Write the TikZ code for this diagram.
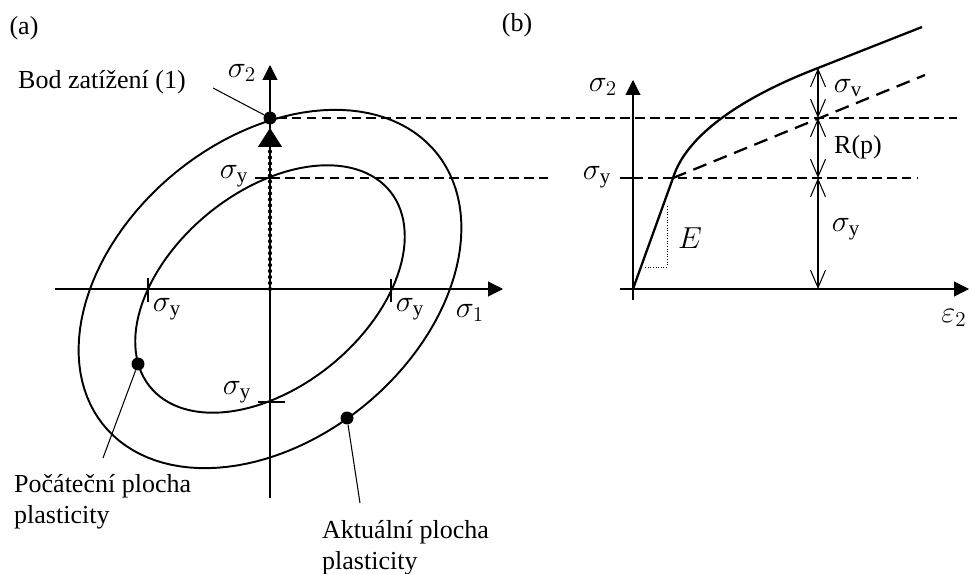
\documentclass[tikz,border=0pt]{standalone}
\usepackage{fontspec}
\setmainfont{Liberation Serif}
\usetikzlibrary{arrows.meta}

\begin{document}
\begin{tikzpicture}[
    x=0.02cm, y=-0.02cm,
    font=\fontsize{14.8}{17.5}\selectfont,
    axis/.style={line width=0.6pt, -{Triangle[length=3mm, width=3mm]}},
    curve/.style={line width=1.1pt},
    guide/.style={line width=0.6pt, dash pattern=on 5.5pt off 3pt},
    leader/.style={line width=0.6pt},
    dot/.style={circle, fill=black, inner sep=0pt, minimum size=0.26cm},
    mlbl/.style={font=\fontsize{17}{20}\selectfont},
    dimarrow/.style={line width=0.6pt, {Straight Barb[length=3.5mm, width=3mm]}-{Straight Barb[length=3.5mm, width=3mm]}}
]
\useasboundingbox (0,0) rectangle (971,574);

% (a) yield surfaces
\node (labA) at (24,28) {(a)};
\coordinate (oa) at (270,289);
\coordinate (s1start) at (55,289);
\coordinate (s1end) at (503,289);
\coordinate (s2start) at (270,498);
\coordinate (s2end) at (270,65);
\draw[axis] (s1start) -- (s1end);
\draw[axis] (s2start) -- (s2end);
\node[mlbl] (s1a) at (470,313) {$\sigma_1$};
\node[mlbl] (s2a) at (242,73) {$\sigma_2$};

% initial and current surface
\draw[curve] plot[domain=0:360, samples=121]
    ({270+122*(0.9325*cos(\x)-0.5923*sin(\x))}, {289-112*(0.9325*cos(\x)+0.5923*sin(\x))});
\draw[curve] plot[domain=0:360, samples=121]
    ({270+180*(0.8704*cos(\x)-0.6108*sin(\x))}, {289-168.5*(0.8704*cos(\x)+0.6108*sin(\x))});

% ticks
\coordinate (tl1) at (148,278); \coordinate (tl2) at (148,302);
\coordinate (tr1) at (391,279); \coordinate (tr2) at (391,302);
\coordinate (tb1) at (258,402); \coordinate (tb2) at (285,402);
\coordinate (tt1) at (255,178); \coordinate (ya) at (270,178);
\draw[leader] (tl1) -- (tl2);
\draw[leader] (tr1) -- (tr2);
\draw[leader] (tb1) -- (tb2);
\draw[leader] (tt1) -- (ya);
\node[mlbl] (syl) at (167,309) {$\sigma_\mathrm{y}$};
\node[mlbl] (syr) at (410,309) {$\sigma_\mathrm{y}$};
\node[mlbl] (syb) at (237,392) {$\sigma_\mathrm{y}$};
\node[mlbl] (syt) at (234,176) {$\sigma_\mathrm{y}$};

% loading path
\coordinate (loadtip) at (270,128);
\coordinate (loadbase) at (270,149);
\draw[line width=2.4pt, line cap=round, dash pattern=on 0pt off 3.4pt] (oa) -- (loadbase);
\draw[line width=0.6pt, -{Triangle[length=3.8mm, width=4.8mm]}] (loadbase) -- (loadtip);
\node[dot] (load) at (270,118) {};
\node[dot] (inidot) at (138,364) {};
\node[dot] (curdot) at (347,418) {};

% labels with leaders
\node[anchor=west] (bod) at (12,82) {Bod zatížení (1)};
\coordinate (bodend) at (213,88);
\draw[leader] (bodend) -- (load);
\node[anchor=west, align=left] (poc) at (8,502) {Počáteční plocha\\plasticity};
\coordinate (pocend) at (103,458);
\draw[leader] (pocend) -- (inidot);
\node[anchor=west, align=left] (akt) at (316,548) {Aktuální plocha\\plasticity};
\coordinate (aktend) at (360,503);
\draw[leader] (aktend) -- (curdot);

% guide lines between (a) and (b)
\coordinate (topend) at (957,118);
\coordinate (yaend) at (553,178);
\draw[guide] (load) -- (topend);
\draw[guide] (ya) -- (yaend);

% (b) stress-strain curve
\node (labB) at (517,25) {(b)};
\coordinate (ob) at (633,289);
\coordinate (e2start) at (620,289);
\coordinate (e2end) at (969,289);
\coordinate (s2bstart) at (633,300);
\coordinate (s2bend) at (633,80);
\draw[axis] (e2start) -- (e2end);
\draw[axis] (s2bstart) -- (s2bend);
\node[mlbl] (s2b) at (603,87) {$\sigma_2$};
\node[mlbl] (e2) at (954,318) {$\varepsilon_2$};

\coordinate (tyb) at (620,178);
\coordinate (yb) at (633,178);
\coordinate (ybend) at (917,178);
\draw[leader] (tyb) -- (yb);
\draw[guide] (yb) -- (ybend);
\node[mlbl] (syb2) at (597,177) {$\sigma_\mathrm{y}$};

% elastic slope
\coordinate (e1) at (645,267);
\coordinate (e2c) at (667,267);
\coordinate (e3) at (667,205);
\draw[line width=0.5pt, densely dotted] (e1) -- (e2c) -- (e3);
\node[mlbl] (emod) at (690,238) {$E$};

% curve and hardening line
\coordinate (yield) at (673,178);
\coordinate (knee) at (818,68);
\coordinate (curend) at (922,27);
\coordinate (hardend) at (925,75);
\draw[line width=1.3pt] (ob) -- (yield) .. controls (686,136) and (740,98) .. (knee) -- (curend);
\draw[line width=1.3pt, dash pattern=on 8pt off 4.5pt] (yield) -- (hardend);

% dimensions
\coordinate (d0) at (818,289);
\coordinate (d1) at (818,178);
\coordinate (d2) at (818,118);
\draw[dimarrow] (d0) -- (d1);
\draw[dimarrow] (d1) -- (d2);
\draw[dimarrow] (d2) -- (knee);
\node[mlbl] (dsy) at (846,229) {$\sigma_\mathrm{y}$};
\node (drp) at (858,147) {R(p)};
\node[mlbl] (dsv) at (848,88) {$\sigma_\mathrm{v}$};
\end{tikzpicture}
\end{document}
